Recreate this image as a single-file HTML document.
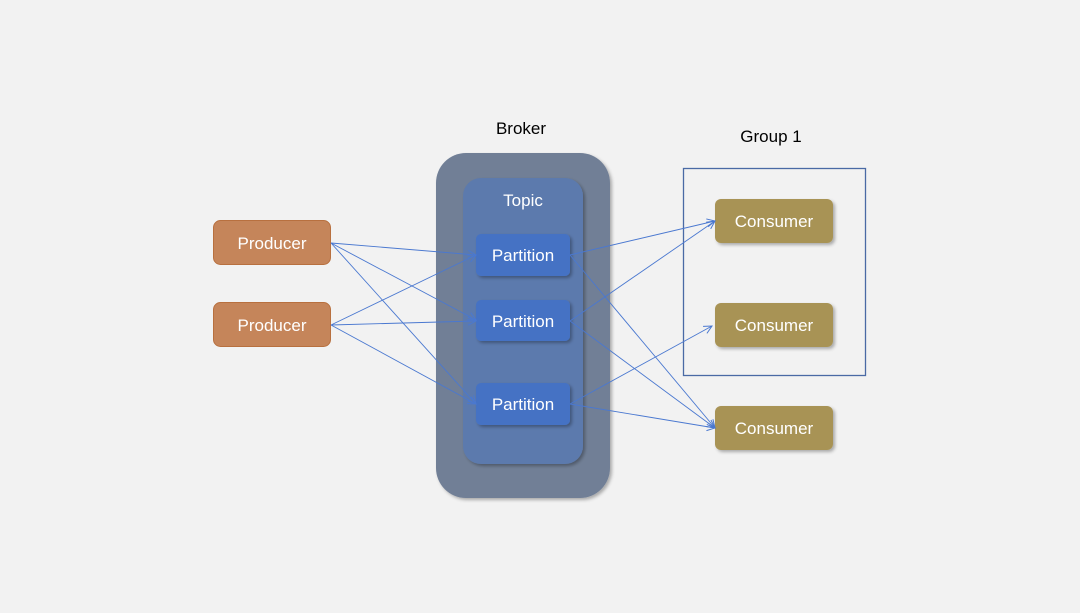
<!DOCTYPE html>
<html><head><style>
body{margin:0;width:1080px;height:608px;background:#f2f2f2;overflow:hidden;font-family:"Liberation Sans","DejaVu Sans",sans-serif;}
</style></head><body>
<svg width="1080" height="608" xmlns="http://www.w3.org/2000/svg">
<defs>
<marker id="a" markerWidth="10" markerHeight="10" refX="9" refY="5" orient="auto" markerUnits="userSpaceOnUse">
<path d="M1,1 L9,5 L1,9" fill="none" stroke="#4a78d0" stroke-width="1"/>
</marker>
<filter id="s" x="-20%" y="-20%" width="150%" height="150%"><feDropShadow dx="2" dy="2" stdDeviation="1.5" flood-color="#000" flood-opacity="0.3"/></filter>
</defs>
<g font-size="17" fill="#000">
<text x="521" y="134" text-anchor="middle">Broker</text>
<text x="771" y="142" text-anchor="middle">Group 1</text>
</g>
<rect x="436" y="153" width="174" height="345" rx="30" fill="#717f96" filter="url(#s)"/>
<rect x="463" y="178" width="120" height="286" rx="18" fill="#5b7aad" filter="url(#s)"/>
<text x="523" y="206" text-anchor="middle" fill="#fff" font-size="17">Topic</text>
<g filter="url(#s)">
<rect x="476" y="234" width="94" height="42" rx="5" fill="#4472c4"/>
<rect x="476" y="300" width="94" height="41" rx="5" fill="#4472c4"/>
<rect x="476" y="383" width="94" height="42" rx="5" fill="#4472c4"/>
</g>
<g fill="#fff" font-size="17" text-anchor="middle">
<text x="523" y="261">Partition</text>
<text x="523" y="327">Partition</text>
<text x="523" y="410">Partition</text>
</g>
<rect x="213.5" y="220.5" width="117" height="44" rx="7" fill="#c5855a" stroke="#b8703f"/>
<rect x="213.5" y="302.5" width="117" height="44" rx="7" fill="#c5855a" stroke="#b8703f"/>
<g fill="#fff" font-size="17" text-anchor="middle">
<text x="272" y="249">Producer</text>
<text x="272" y="331">Producer</text>
</g>
<rect x="683.5" y="168.5" width="182" height="207" fill="none" stroke="#4a6aa5" stroke-width="1.3"/>
<g filter="url(#s)" fill="#a89355">
<rect x="715" y="199" width="118" height="44" rx="6"/>
<rect x="715" y="303" width="118" height="44" rx="6"/>
<rect x="715" y="406" width="118" height="44" rx="6"/>
</g>
<g fill="#fff" font-size="17" text-anchor="middle">
<text x="774" y="227">Consumer</text>
<text x="774" y="331">Consumer</text>
<text x="774" y="434">Consumer</text>
</g>
<g stroke="#4a78d0" stroke-width="0.9" fill="none" marker-end="url(#a)">
<line x1="331" y1="243" x2="476" y2="255"/>
<line x1="331" y1="243" x2="476" y2="320"/>
<line x1="331" y1="243" x2="476" y2="404"/>
<line x1="331" y1="325" x2="476" y2="255"/>
<line x1="331" y1="325" x2="476" y2="321"/>
<line x1="331" y1="325" x2="476" y2="404"/>
<line x1="570" y1="255" x2="715" y2="221"/>
<line x1="570" y1="255" x2="715" y2="428"/>
<line x1="570" y1="321" x2="715" y2="221"/>
<line x1="570" y1="321" x2="715" y2="428"/>
<line x1="570" y1="404" x2="712" y2="326"/>
<line x1="570" y1="404" x2="715" y2="428"/>
</g>
</svg>
</body></html>
